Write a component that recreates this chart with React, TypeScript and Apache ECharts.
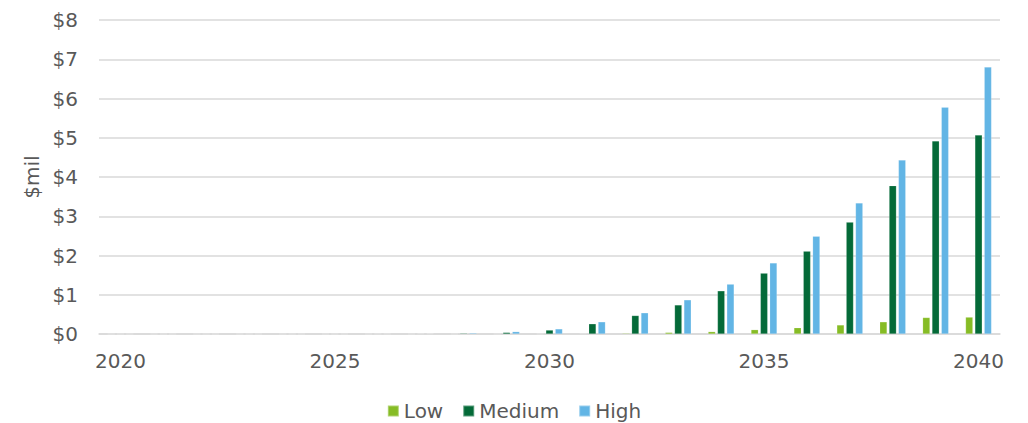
import React, { useEffect, useRef } from "react";
import * as echarts from "echarts";

const years = ["2020","2021","2022","2023","2024","2025","2026","2027","2028","2029","2030","2031","2032","2033","2034","2035","2036","2037","2038","2039","2040"];
const lowValues = [0,0,0,0,0,0,0,0,0,0,0.005,0.01,0.02,0.04,0.06,0.11,0.16,0.23,0.31,0.42,0.43];
const mediumValues = [0,0,0,0,0,0,0.002,0.01,0.02,0.04,0.10,0.26,0.47,0.74,1.10,1.55,2.11,2.85,3.78,4.92,5.07];
const highValues = [0,0,0,0,0,0,0.003,0.012,0.025,0.06,0.13,0.31,0.54,0.87,1.27,1.81,2.49,3.34,4.43,5.78,6.80];
const yTicks = [0,1,2,3,4,5,6,7,8];

const FONT = "DejaVu Sans";
const TXT = "#595959";

export default function App() {
  const ref = useRef<HTMLDivElement>(null);
  useEffect(() => {
    if (!ref.current) return;
    const chart = echarts.init(ref.current, undefined, { renderer: "svg" });
    const bar = (name: string, data: number[], color: string) => ({
      name,
      type: "bar",
      data,
      barWidth: 7.3,
      barGap: "28%",
      itemStyle: { color, borderColor: "rgba(255,255,255,0.35)", borderWidth: 0.5 },
    });
    chart.setOption({
      animation: false,
      textStyle: { fontFamily: FONT },
      grid: { left: 99, right: 28, top: 20, bottom: 89 },
      legend: {
        bottom: -3,
        left: "center",
        itemWidth: 11,
        itemHeight: 11,
        itemGap: 19,
        icon: "rect",
        textStyle: { fontFamily: FONT, fontSize: 20, color: TXT },
        data: ["Low", "Medium", "High"],
      },
      xAxis: {
        type: "category",
        data: years,
        axisTick: { show: false },
        axisLine: { lineStyle: { color: "#d9d9d9", width: 1.5 } },
        axisLabel: { interval: 4, fontSize: 20, color: TXT, margin: 17, fontFamily: FONT },
      },
      yAxis: {
        type: "value",
        min: yTicks[0],
        max: yTicks[yTicks.length - 1],
        interval: 1,
        name: "$mil",
        nameLocation: "middle",
        nameGap: 57,
        nameRotate: 90,
        nameTextStyle: { fontSize: 20, color: TXT, fontFamily: FONT },
        axisLine: { show: false },
        axisTick: { show: false },
        splitLine: { lineStyle: { color: "#d9d9d9", width: 1.5 } },
        axisLabel: { fontSize: 20, color: TXT, margin: 21, fontFamily: FONT, formatter: (v: number) => "$" + v },
      },
      series: [
        bar("Low", lowValues, "#86BC25"),
        bar("Medium", mediumValues, "#046A38"),
        bar("High", highValues, "#62B5E5"),
      ],
    });
    return () => chart.dispose();
  }, []);
  return <div ref={ref} style={{ position: "fixed", left: 0, top: 0, width: 1028, height: 423, background: "#fff" }} />;
}
